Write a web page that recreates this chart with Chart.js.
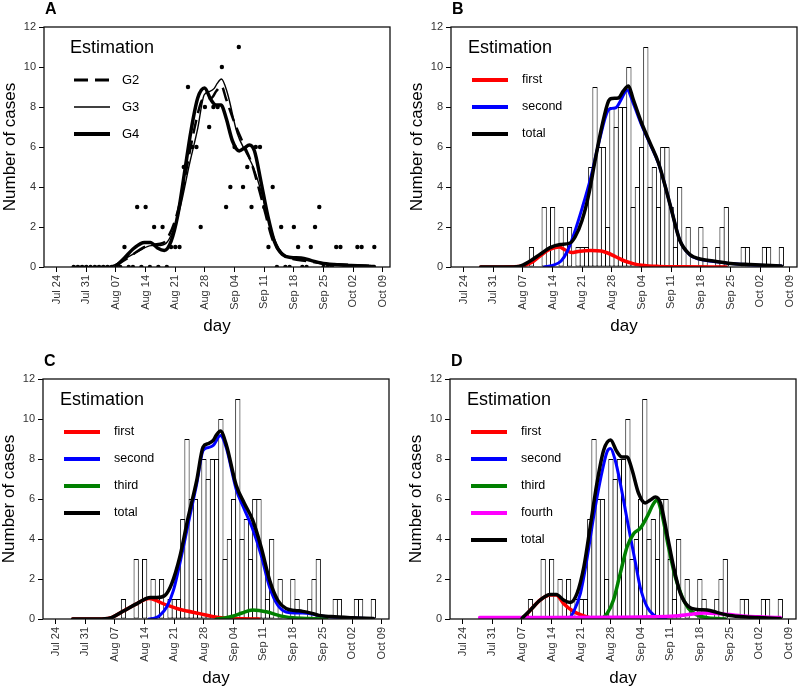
<!DOCTYPE html>
<html>
<head>
<meta charset="utf-8">
<script src="https://cdn.jsdelivr.net/npm/chart.js@4.4.1/dist/chart.umd.min.js"></script>
<style>
  body { margin: 0; background: #fff; }
  .panel { position: absolute; }
</style>
</head>
<body>
<canvas id="panelA" class="panel" width="400" height="337" style="left:0;top:0"></canvas>
<canvas id="panelB" class="panel" width="400" height="337" style="left:407px;top:0"></canvas>
<canvas id="panelC" class="panel" width="400" height="337" style="left:-1px;top:352px"></canvas>
<canvas id="panelD" class="panel" width="400" height="337" style="left:406px;top:352px"></canvas>
<script>
// day 0 = Jul 24
const tickDays = [0, 7, 14, 21, 28, 35, 42, 49, 56, 63, 70, 77];
const tickLabels = ["Jul 24", "Jul 31", "Aug 07", "Aug 14", "Aug 21", "Aug 28",
  "Sep 04", "Sep 11", "Sep 18", "Sep 25", "Oct 02", "Oct 09"];

// daily counts from Jul 28 (day 4) to Oct 07 (day 75)
const firstCaseDay = 4;
const dailyCases = [
  0, 0, 0, 0, 0, 0, 0, 0, 0, 0, 0, 0,
  1, 0, 0, 3, 0, 3, 0, 2, 0, 2, 0, 1, 1, 1,
  5, 9, 6, 6, 2, 8, 7, 8, 8, 10, 3, 4, 6, 11, 4, 5, 3, 6, 6, 3, 1, 4,
  0, 2, 0, 0, 2, 1, 0, 0, 1, 2, 3, 0, 0, 0, 1, 1, 0, 0, 0, 1, 1, 0, 0, 1
];

// two generations (G2)
const totalG2 = [[4,0],[10,0],[13,0.03],[15.7,0.3],[18,0.63],[20.4,0.97],[22.8,1.13],[25.1,1.2],[26.3,1.5],
  [27.9,2.3],[29.5,3.6],[31,5.3],[32.6,7.0],[34.2,8.3],[35,8.43],[36.5,8.45],[37.7,8.8],[38.9,9.05],[40,8.4],
  [42,7.2],[44,6.2],[46,5.2],[47.5,4.1],[49,2.9],[51,1.35],[53.4,0.62],[55.8,0.4],[58.9,0.3],[63,0.18],
  [67.6,0.12],[75,0.05]];
const firstG2 = [[4,0],[12,0.01],[14,0.06],[16,0.22],[18,0.55],[20,0.85],[22.5,1.0],[24,0.85],[25.5,0.72],
  [27,0.78],[30,0.83],[32.5,0.8],[34,0.7],[36,0.5],[38,0.3],[40,0.17],[42,0.09],[46,0.03],[52,0.01],[62,0]];
const secondG2 = [[19,0],[21,0.08],[23,0.3],[24.5,0.8],[26,1.63],[28,2.97],[30,4.47],[32,6.3],[34,7.8],
  [35,7.93],[36,7.97],[37,8.3],[38.6,8.85],[40,8.2],[42,7.1],[44,6.15],[46,5.17],[47.5,4.1],[49,2.9],
  [51,1.35],[53.4,0.6],[55.8,0.38],[59,0.28],[63,0.17],[68,0.1],[75,0.05]];

// three generations (G3)
const totalG3 = [[4,0],[10,0],[12.9,0.05],[16,0.4],[19.2,0.77],[22.3,1.07],[23.9,1.07],[25.8,1.18],
  [27.4,1.77],[29.3,3.1],[31.3,5.1],[33.3,6.93],[34.8,8.6],[36,8.77],[37.2,8.93],[37.9,9.18],[38.9,9.4],
  [40.3,8.7],[42.6,6.7],[44.5,5.8],[46.5,4.95],[48.5,3.6],[50.5,1.95],[52.4,0.95],[54.4,0.52],[56.5,0.43],
  [58.3,0.38],[60.5,0.28],[62.2,0.18],[65,0.12],[70,0.06],[75,0.02]];
const firstG3 = [[4,0],[10,0],[12.9,0.05],[16,0.4],[19.2,0.77],[22,1.02],[23.5,0.95],[25,0.8],[27,0.64],
  [29,0.5],[31,0.4],[34,0.27],[37,0.13],[40,0.05],[44,0.01],[48,0]];
const secondG3 = [[22,0],[23.5,0.05],[24.6,0.18],[26.2,0.6],[27.8,1.43],[29.3,2.77],[31.3,4.77],[33.3,6.77],
  [34.8,8.43],[36,8.57],[37.2,8.68],[38.9,9.18],[40.3,8.55],[42.6,6.5],[44.5,5.5],[46.5,4.5],[48.5,3.2],
  [50.5,1.6],[52.4,0.7],[54.4,0.35],[56.5,0.3],[58.3,0.3],[60.5,0.25],[62.2,0.16],[65,0.1],[70,0.05],[75,0.02]];
const thirdG3 = [[38,0],[40,0.05],[42,0.15],[44,0.3],[46.5,0.45],[48,0.43],[50,0.35],[52,0.22],[54,0.12],
  [56,0.06],[60,0.02],[64,0]];

// four generations (G4)
const totalG4 = [[14,0.03],[16,0.45],[18.3,0.95],[20.7,1.23],[22.1,1.23],[23.8,0.95],[25.4,0.83],[27,1.28],
  [28.6,2.6],[30.1,4.6],[31.7,6.8],[33.3,8.45],[34.9,8.95],[36.4,8.37],[37.6,8.1],[38.8,8.1],[40,7.45],
  [41.5,6.3],[43.1,5.8],[44.3,5.95],[45.5,6.1],[46.7,5.8],[48.2,4.3],[49.8,2.6],[51.4,1.28],[53.3,0.62],
  [55.3,0.48],[57.7,0.45],[60,0.33],[62.4,0.2],[65.5,0.12],[69.5,0.07],[75,0.03]];
const firstG4 = [[13,0],[14,0.03],[16,0.45],[18.3,0.95],[20.7,1.2],[22.1,1.2],[23.8,0.78],[26.2,0.37],
  [28.6,0.15],[31,0.03],[34,0]];
const secondG4 = [[24,0],[25,0.02],[26.2,0.37],[27.8,1.28],[29.3,2.95],[30.9,5.1],[32.5,6.95],[34.1,8.37],
  [34.9,8.53],[36,7.95],[37.2,6.8],[38.4,5.45],[39.6,4.1],[40.8,2.8],[41.9,1.6],[43.5,0.62],[45.1,0.2],
  [46.7,0.03],[48,0]];
const thirdG4 = [[32,0],[32.5,0.01],[34.1,0.28],[35.6,0.95],[37.2,2.28],[38.8,3.6],[40.4,4.28],[41.9,4.53],
  [43.5,5.1],[45.1,5.78],[45.9,5.95],[47,5.28],[48.6,3.6],[50.2,2.1],[51.8,1.12],[53.3,0.53],[55.3,0.2],
  [57.7,0.07],[60,0.02],[62,0]];
const fourthG4 = [[4,0.08],[20,0.08],[35,0.09],[45,0.11],[50,0.15],[54,0.24],[57,0.3],[60,0.28],[63,0.22],
  [67,0.14],[71,0.1],[75,0.07]];

const FONT = '"Liberation Sans", Arial, sans-serif';
Chart.defaults.font.family = FONT;

const toXY = pairs => pairs.map(([x, y]) => ({ x, y }));

function curve(label, pairs, color, width, order, extra) {
  return Object.assign({
    type: 'line',
    label,
    data: toXY(pairs),
    borderColor: color,
    borderWidth: width,
    pointRadius: 0,
    fill: false,
    cubicInterpolationMode: 'monotone',
    borderCapStyle: 'round',
    borderJoinStyle: 'round',
    order,
    legend: true
  }, extra || {});
}

function caseBars() {
  const pts = dailyCases
    .map((c, i) => ({ x: firstCaseDay + i, y: c }))
    .filter(p => p.y > 0);
  return {
    type: 'bar',
    data: pts,
    backgroundColor: '#fff',
    borderColor: '#000',
    borderWidth: 1,
    borderSkipped: false,
    // a bit over one day so neighbouring outlines share one line
    barPercentage: 1.236,
    categoryPercentage: 1,
    order: 10
  };
}

function caseDots() {
  return {
    type: 'scatter',
    data: dailyCases.map((c, i) => ({ x: firstCaseDay + i, y: c })),
    pointRadius: 2.2,
    pointBackgroundColor: '#000',
    pointBorderWidth: 0,
    showLine: false,
    order: 8
  };
}

const framePlugin = {
  id: 'frame',
  afterDatasetsDraw(chart) {
    const { ctx, chartArea: a } = chart;
    ctx.save();
    ctx.strokeStyle = '#111';
    ctx.lineWidth = 1.3;
    ctx.strokeRect(a.left, a.top, a.right - a.left, a.bottom - a.top);
    ctx.restore();
  }
};

const legendPlugin = {
  id: 'estimationLegend',
  afterDraw(chart, args, opts) {
    const { ctx, chartArea: a } = chart;
    ctx.save();
    ctx.fillStyle = '#000';
    ctx.textBaseline = 'middle';
    ctx.font = 'bold 16px ' + FONT;
    ctx.fillText(opts.letter, a.left + 1, 10);
    ctx.font = '18px ' + FONT;
    ctx.fillText('Estimation', a.left + opts.titleX, a.top + 21.5);
    ctx.font = opts.fontSize + 'px ' + FONT;
    chart.data.datasets.filter(ds => ds.legend).forEach((ds, i) => {
      const y = a.top + 53 + i * 27;
      ctx.beginPath();
      ctx.strokeStyle = ds.borderColor;
      ctx.lineWidth = ds.legendWidth || 4;
      ctx.setLineDash(ds.borderDash || []);
      ctx.moveTo(a.left + opts.lineX, y);
      ctx.lineTo(a.left + opts.lineX + 36, y);
      ctx.stroke();
      ctx.setLineDash([]);
      ctx.fillText(ds.label, a.left + opts.textX, y);
    });
    ctx.restore();
  }
};

function makePanel(id, letter, datasets, legendOpts) {
  const axisGrid = { drawOnChartArea: false, tickLength: 5, color: '#000', lineWidth: 1 };
  return new Chart(document.getElementById(id), {
    type: 'line',
    data: { datasets },
    plugins: [framePlugin, legendPlugin],
    options: {
      responsive: false,
      animation: false,
      devicePixelRatio: 1,
      layout: { padding: { top: 27, right: 10, left: 0, bottom: 0 } },
      plugins: {
        legend: { display: false },
        tooltip: { enabled: false },
        estimationLegend: Object.assign({ letter }, legendOpts)
      },
      scales: {
        x: {
          type: 'linear',
          offset: false,
          min: -3,
          max: 78.7,
          afterBuildTicks: s => { s.ticks = tickDays.map(v => ({ value: v })); },
          afterFit: s => { s.height = 70; },
          ticks: {
            autoSkip: false, minRotation: 90, maxRotation: 90, padding: 3,
            font: { size: 11 }, color: '#333',
            callback: (v, i) => tickLabels[i]
          },
          grid: Object.assign({ offset: false }, axisGrid),
          border: { display: false },
          title: { display: true, text: 'day', font: { size: 17 }, color: '#000', padding: 0 }
        },
        y: {
          min: 0,
          max: 12,
          afterFit: s => { s.width = 44; },
          ticks: { stepSize: 2, padding: 3, font: { size: 11 }, color: '#333' },
          grid: axisGrid,
          border: { display: false },
          title: { display: true, text: 'Number of cases', font: { size: 17 }, color: '#000', padding: 0 }
        }
      }
    }
  });
}

const wideLegend = { titleX: 26, lineX: 30, textX: 78, fontSize: 13 };
const narrowLegend = { titleX: 17, lineX: 21, textX: 71, fontSize: 12.5 };

makePanel('panelA', 'A', [
  curve('G2', totalG2, '#000', 2.5, 2, { borderDash: [14, 7], borderCapStyle: 'butt', legendWidth: 3 }),
  curve('G3', totalG3, '#000', 1.4, 1, { legendWidth: 1.4 }),
  curve('G4', totalG4, '#000', 3.5, 3, { legendWidth: 4 }),
  caseDots()
], wideLegend);

makePanel('panelB', 'B', [
  curve('first', firstG2, '#ff0000', 3.5, 3),
  curve('second', secondG2, '#0000ff', 3, 2),
  curve('total', totalG2, '#000', 3.5, 1),
  caseBars()
], narrowLegend);

makePanel('panelC', 'C', [
  curve('first', firstG3, '#ff0000', 3.5, 4),
  curve('second', secondG3, '#0000ff', 3, 3),
  curve('third', thirdG3, '#008000', 3.5, 2),
  curve('total', totalG3, '#000', 3.5, 1),
  caseBars()
], narrowLegend);

makePanel('panelD', 'D', [
  curve('first', firstG4, '#ff0000', 3.5, 5),
  curve('second', secondG4, '#0000ff', 3, 4),
  curve('third', thirdG4, '#008000', 3.5, 3),
  curve('fourth', fourthG4, '#ff00ff', 3.5, 2),
  curve('total', totalG4, '#000', 3.5, 1),
  caseBars()
], narrowLegend);
</script>
</body>
</html>
